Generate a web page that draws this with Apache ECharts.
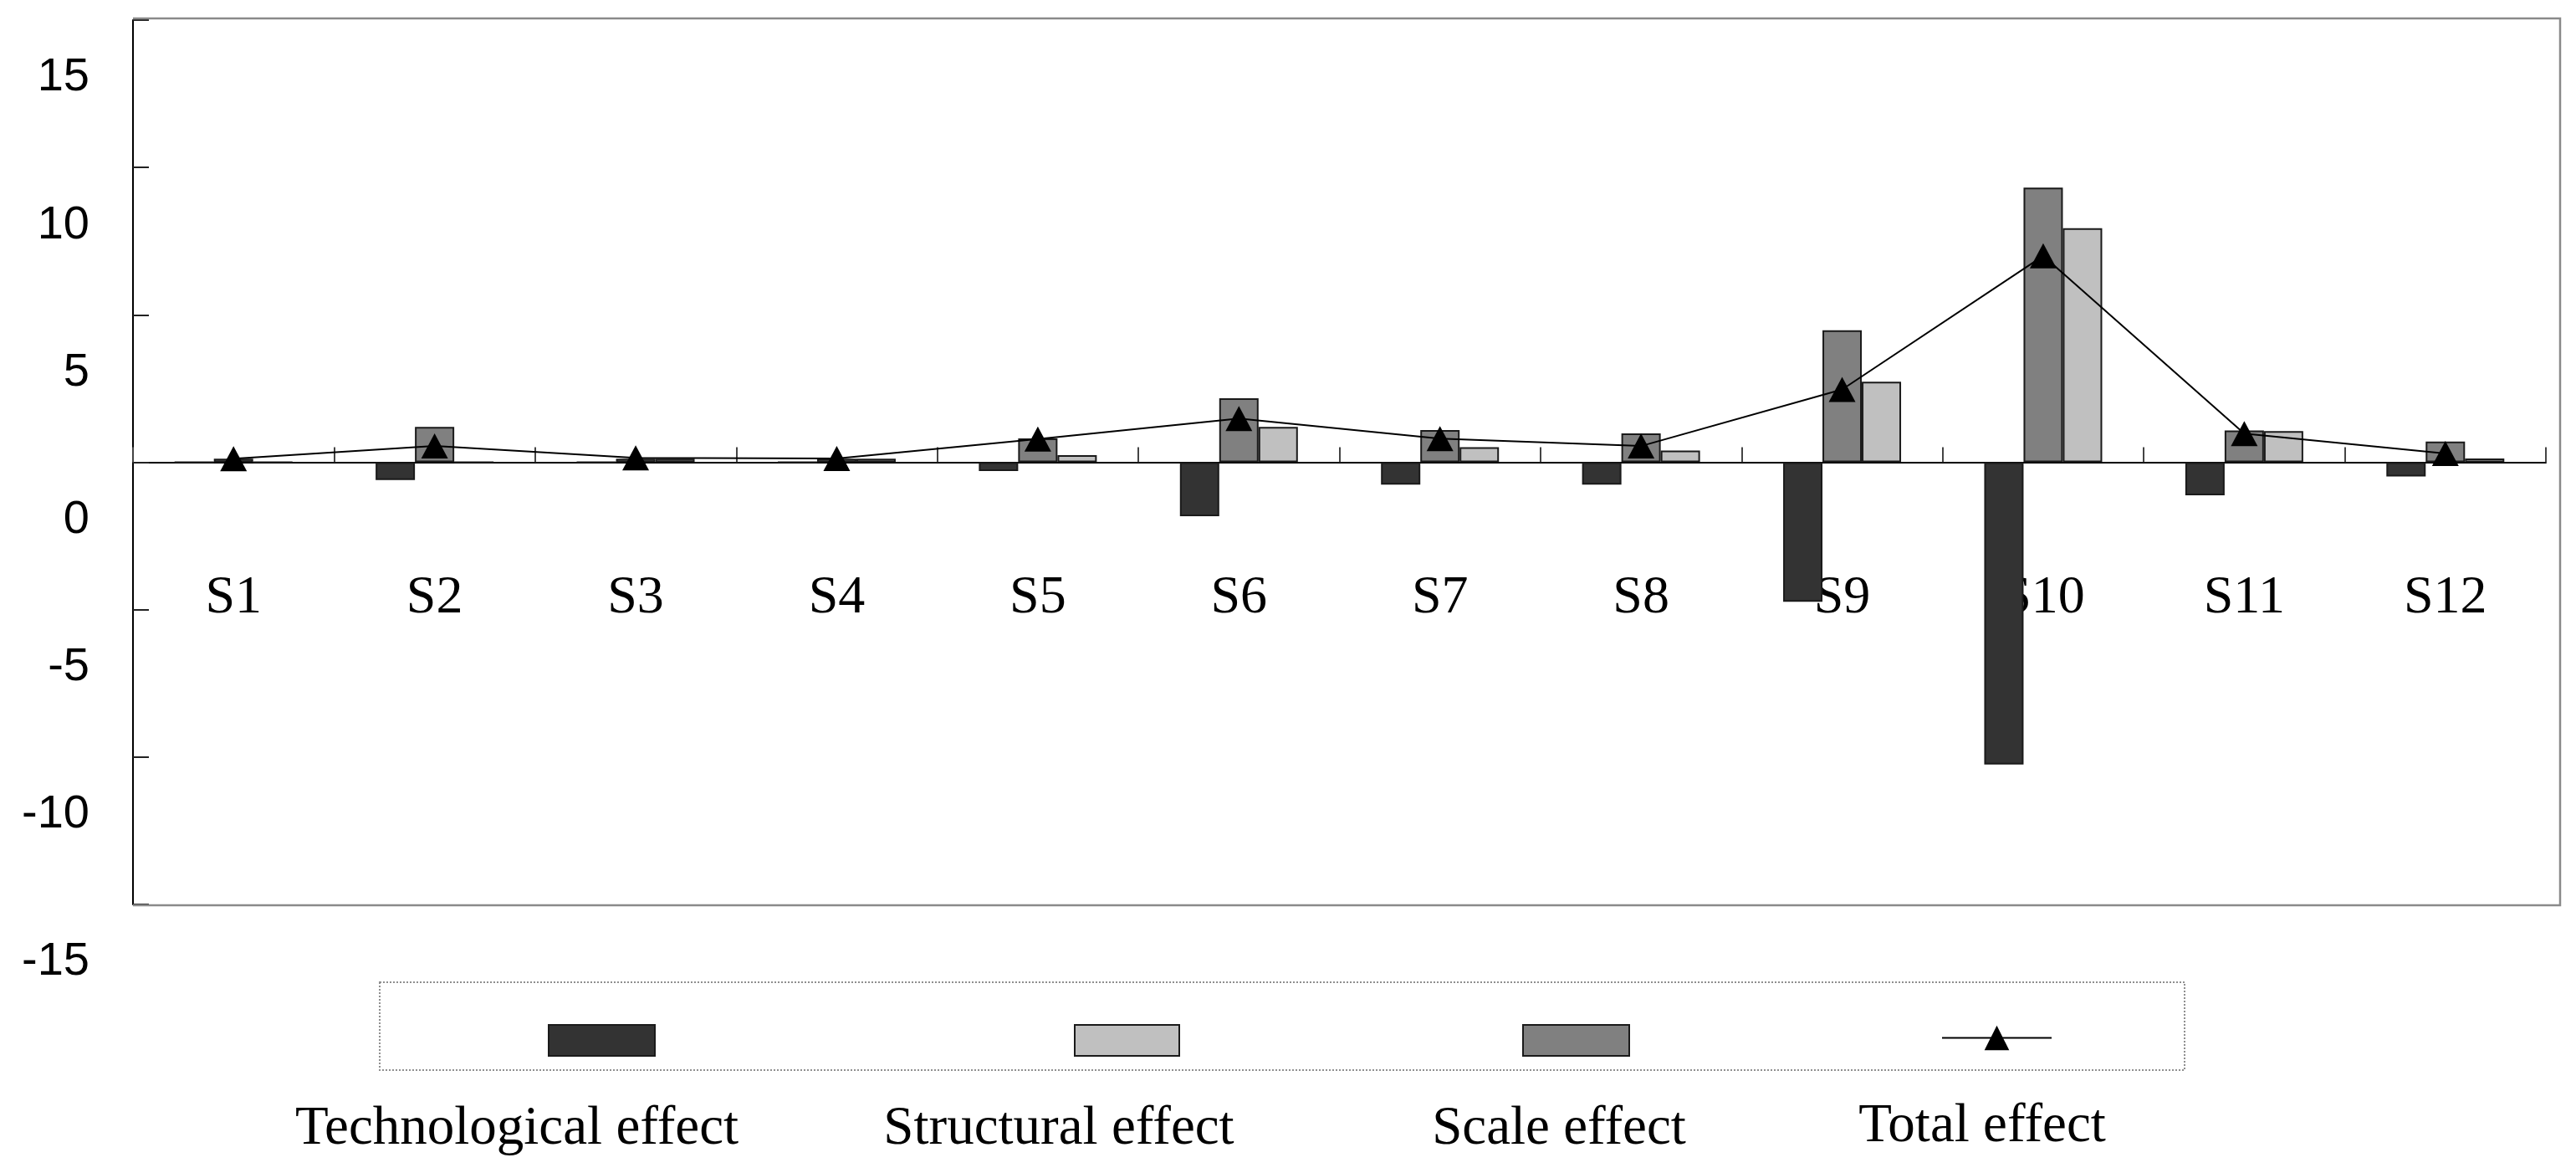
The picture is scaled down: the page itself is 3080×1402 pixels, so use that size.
<!DOCTYPE html>
<html>
<head>
<meta charset="utf-8">
<script src="https://cdn.jsdelivr.net/npm/echarts@6/dist/echarts.min.js"></script>
<style>
html,body{margin:0;padding:0;background:#fff;}
#chart{width:3080px;height:1402px;}
</style>
</head>
<body>
<div id="chart"></div>
<script>
// ---- data ----
const categories = ['S1','S2','S3','S4','S5','S6','S7','S8','S9','S10','S11','S12'];
const technological = [0, -0.6, 0, 0, -0.3, -1.83, -0.76, -0.76, -4.73, -10.25, -1.12, -0.48];
const scale = [0.12, 1.2, 0.12, 0.12, 0.81, 2.17, 1.09, 0.98, 4.48, 9.32, 1.08, 0.7];
const structural = [0, 0, 0.12, 0.12, 0.24, 1.2, 0.51, 0.4, 2.73, 7.94, 1.06, 0.13];
const total = [0.12, 0.55, 0.15, 0.13, 0.79, 1.48, 0.8, 0.55, 2.47, 7.0, 0.97, 0.3];
const yTicks = { min: -15, max: 15, interval: 5 };
const legendNames = ['Technological effect', 'Structural effect', 'Scale effect', 'Total effect'];

const chart = echarts.init(document.getElementById('chart'), null, { renderer: 'canvas' });

const serif = 'Liberation Serif';
const sans = 'Liberation Sans';
const barBorder = { borderColor: '#1a1a1a', borderWidth: 2 };

function legendAt(name, left, top, w, h, icon) {
  const l = {
    data: [name], left: left, top: top, itemWidth: w, itemHeight: h,
    padding: 0, itemGap: 0, selectedMode: false,
    formatter: function () { return ''; },
    textStyle: { fontSize: 1, padding: 0 }
  };
  if (icon) l.icon = icon;
  return l;
}

const legendTextY = 1350;
const legendFont = '65px "Liberation Serif"';
const option = {
  backgroundColor: '#ffffff',
  animation: false,
  grid: { left: 159, right: 36, top: 24, bottom: 321, containLabel: false },
  legend: [
    legendAt(legendNames[0], 655, 1224, 127, 37, 'rect'),
    legendAt(legendNames[1], 1284, 1224, 125, 37, 'rect'),
    legendAt(legendNames[2], 1820, 1224, 127, 37, 'rect'),
    legendAt(legendNames[3], 2321, 1222, 131, 37)
  ],
  xAxis: {
    type: 'category',
    data: categories,
    boundaryGap: true,
    offset: -528.5,
    axisLine: { show: true, onZero: false, lineStyle: { color: '#000', width: 2 } },
    axisTick: { show: true, inside: true, length: 18, alignWithLabel: false, lineStyle: { color: '#444', width: 2 } },
    axisLabel: { margin: 131, fontFamily: serif, fontSize: 64, lineHeight: 64, color: '#000', interval: 0 },
    splitLine: { show: false }
  },
  yAxis: {
    type: 'value',
    min: yTicks.min, max: yTicks.max, interval: yTicks.interval,
    axisLine: { show: true, lineStyle: { color: '#000', width: 2 } },
    axisTick: { show: true, inside: true, length: 19, lineStyle: { color: '#222', width: 2 } },
    axisLabel: { margin: 52, fontFamily: sans, fontSize: 56, color: '#000', verticalAlign: 'top', lineHeight: 138 },
    splitLine: { show: false }
  },
  series: [
    { name: legendNames[0], type: 'bar', data: technological, barWidth: 47, barGap: '0%',
      itemStyle: Object.assign({ color: '#333333' }, barBorder), z: 2 },
    { name: legendNames[2], type: 'bar', data: scale, barWidth: 47, barGap: '0%',
      itemStyle: Object.assign({ color: '#808080' }, barBorder), z: 2 },
    { name: legendNames[1], type: 'bar', data: structural, barWidth: 47, barGap: '0%',
      itemStyle: Object.assign({ color: '#c0c0c0' }, barBorder), z: 2 },
    { name: legendNames[3], type: 'line', data: total, symbol: 'triangle', symbolSize: [32, 30],
      itemStyle: { color: '#000' }, lineStyle: { color: '#000', width: 2 }, z: 4 }
  ],
  graphic: [
    { type: 'polyline', silent: true, z: 1,
      shape: { points: [[159, 22], [3061, 22], [3061, 1082], [159, 1082]] },
      style: { stroke: '#8a8a8a', lineWidth: 2.5, fill: null } },
    { type: 'rect', silent: true, z: 1,
      shape: { x: 454, y: 1174, width: 2158, height: 105 },
      style: { stroke: '#8f8f8f', lineWidth: 2, lineDash: [2, 2], fill: null } },
    { type: 'text', silent: true, x: 618, y: legendTextY,
      style: { text: legendNames[0], font: legendFont, fill: '#000', align: 'center', verticalAlign: 'middle' } },
    { type: 'text', silent: true, x: 1266, y: legendTextY,
      style: { text: legendNames[1], font: legendFont, fill: '#000', align: 'center', verticalAlign: 'middle' } },
    { type: 'text', silent: true, x: 1864, y: legendTextY,
      style: { text: legendNames[2], font: legendFont, fill: '#000', align: 'center', verticalAlign: 'middle' } },
    { type: 'text', silent: true, x: 2370, y: legendTextY - 3,
      style: { text: legendNames[3], font: legendFont, fill: '#000', align: 'center', verticalAlign: 'middle' } }
  ]
};
chart.setOption(option);
</script>
</body>
</html>
